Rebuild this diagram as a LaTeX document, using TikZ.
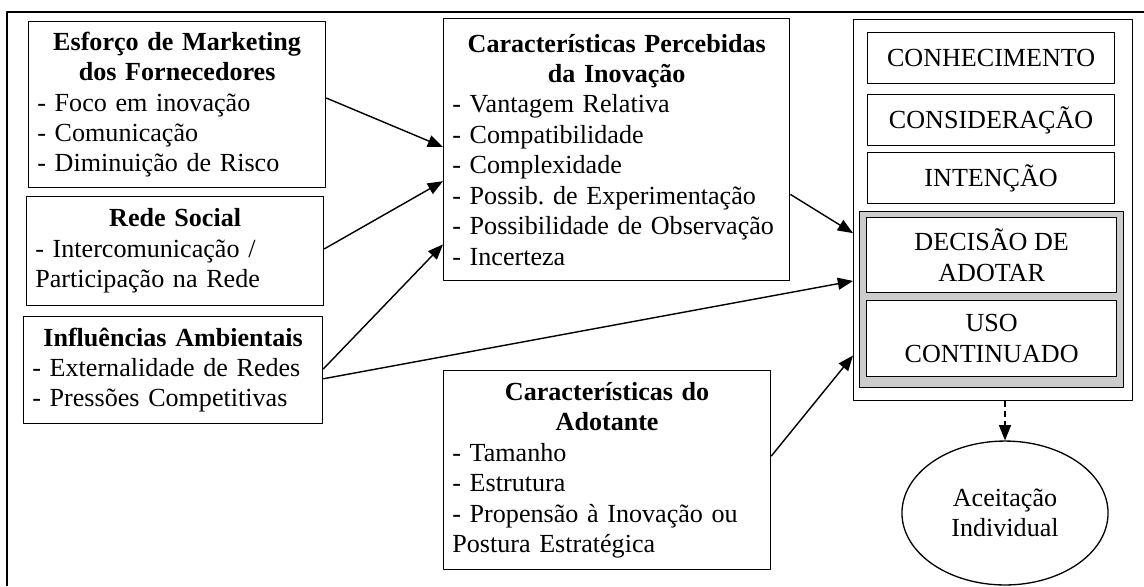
\documentclass[tikz,border=0pt]{standalone}
\usepackage{fontspec}
\setmainfont{Liberation Serif}
\usetikzlibrary{arrows.meta,calc,shapes.geometric}

\begin{document}
\begin{tikzpicture}[x=0.46pt, y=-0.46pt, font=\fontsize{12}{14}\selectfont, line join=round, >={Triangle[length=7pt,width=5.5pt]},
	caixa/.style={draw, line width=0.6pt, anchor=north west, align=left, inner xsep=4pt, inner ysep=0pt},
	etapa/.style={draw, line width=0.6pt, fill=white, anchor=north west, align=center, minimum width=113.6pt, inner sep=0pt},
	seta/.style={->, line width=0.65pt}]
	\useasboundingbox (0,0) rectangle (1144,586);
	\draw[line width=0.8pt] (7,586) -- (7,12) -- (1144,12);
	\node[caixa, text width=128.6pt, minimum height=76.4pt] (esforco) at (28,21) {{\centering\bfseries Esforço de Marketing\\ dos Fornecedores\par}- Foco em inovação\\ - Comunicação\\ - Diminuição de Risco};
	\node[caixa, text width=128.6pt, minimum height=50.1pt] (rede) at (26,196) {{\centering\bfseries Rede Social\par}- Intercomunicação /\\ Participação na Rede};
	\node[caixa, text width=129.5pt, minimum height=49.2pt] (ambiente) at (23,316) {{\centering\bfseries Influências Ambientais\par}- Externalidade de Redes\\ - Pressões Competitivas};
	\node[caixa, text width=151.2pt, minimum height=120.5pt] (percebidas) at (443,18) {{\centering\bfseries Características Percebidas\\ da Inovação\par}- Vantagem Relativa\\ - Compatibilidade\\ - Complexidade\\ - Possib.\ de Experimentação\\ - Possibilidade de Observação\\ - Incerteza};
	\node[caixa, text width=142.4pt, minimum height=91.5pt] (adotante) at (443,370) {{\centering\bfseries Características do\\ Adotante\par}- Tamanho\\ - Estrutura\\ - Propensão à Inovação ou\\ Postura Estratégica};
	\node[draw, line width=0.6pt, anchor=north west, minimum width=128.3pt, minimum height=175.3pt] (adocao) at (853,19) {};
	\node[etapa, minimum height=23.3pt] (conhecimento) at (867,32) {CONHECIMENTO};
	\node[etapa, minimum height=23.3pt] (consideracao) at (867,94) {CONSIDERAÇÃO};
	\node[etapa, minimum height=23.3pt] (intencao) at (867,152) {INTENÇÃO};
	\node[draw, line width=0.6pt, fill=black!20, anchor=north west, minimum width=121.4pt, minimum height=81pt] (uso) at (859,211) {};
	\node[etapa, minimum width=115pt, minimum height=34.5pt] (decisao) at (866,217) {DECISÃO DE\\ ADOTAR};
	\node[etapa, minimum width=115pt, minimum height=35pt] (continuado) at (866,300) {USO\\ CONTINUADO};
	\node[draw, ellipse, line width=0.6pt, minimum width=94.8pt, minimum height=66.2pt, align=center, inner sep=0pt] (aceitacao) at (1005,513) {Aceitação\\ Individual};
	\draw[seta] ($(esforco.north east)!0.46!(esforco.south east)$) -- ($(percebidas.north west)!0.49!(percebidas.south west)$);
	\draw[seta] ($(rede.north east)!0.48!(rede.south east)$) -- ($(percebidas.north west)!0.62!(percebidas.south west)$);
	\draw[seta] ($(ambiente.north east)!0.49!(ambiente.south east)$) -- ($(percebidas.north west)!0.86!(percebidas.south west)$);
	\draw[seta] ($(ambiente.north east)!0.58!(ambiente.south east)$) -- ($(adocao.north west)!0.685!(adocao.south west)$);
	\draw[seta] ($(percebidas.north east)!0.67!(percebidas.south east)$) -- ($(adocao.north west)!0.56!(adocao.south west)$);
	\draw[seta] ($(adotante.north east)!0.43!(adotante.south east)$) -- ($(adocao.north west)!0.88!(adocao.south west)$);
	\draw[seta, dash pattern=on 2.8pt off 1.8pt] (aceitacao.north |- adocao.south) -- (aceitacao.north);
\end{tikzpicture}
\end{document}
